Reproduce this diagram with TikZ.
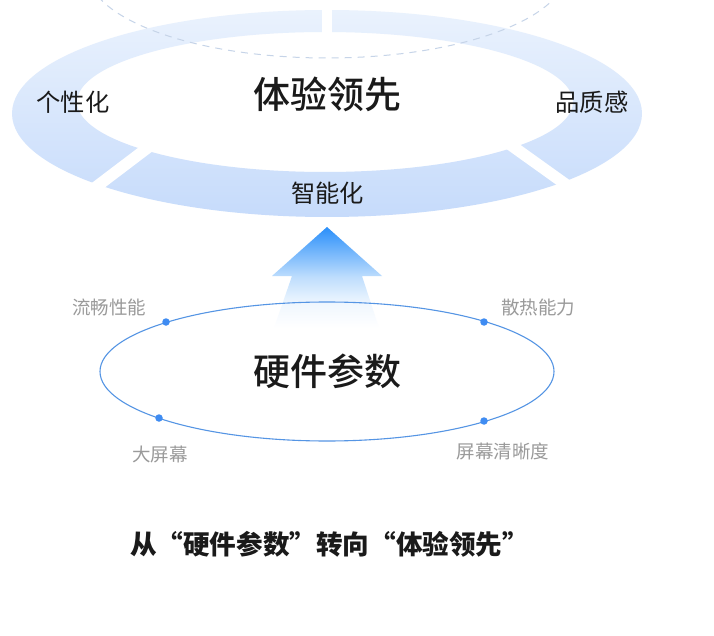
\documentclass[tikz,border=0pt]{standalone}
\usepackage{fontspec}
\setmainfont{Noto Sans CJK SC}
\newfontfamily\cjkmedium{Noto Sans CJK SC Medium}
\definecolor{ringtop}{HTML}{EAF2FD}
\definecolor{ringbot}{HTML}{C6DBFB}
\definecolor{arrowa}{HTML}{2A8FFA}
\definecolor{arrowb}{HTML}{BFDEFD}
\definecolor{arrowc}{HTML}{F0F7FE}
\definecolor{ink}{HTML}{1A1A1A}
\definecolor{muted}{HTML}{9A9A9A}
\definecolor{linkblue}{HTML}{5595E4}
\definecolor{dotblue}{HTML}{3F8CF2}
\definecolor{dashc}{HTML}{C6D4E8}
\pgfdeclareverticalshading{ringshade}{100bp}{
  color(0bp)=(ringbot); color(25bp)=(ringbot); color(75bp)=(ringtop); color(100bp)=(ringtop)}
\pgfdeclareverticalshading{arrowshade}{100bp}{
  color(0bp)=(white); color(25bp)=(white); color(37bp)=(arrowc); color(50bp)=(arrowb); color(75bp)=(arrowa); color(100bp)=(arrowa)}
\tikzset{
  big/.style={font=\fontsize{37}{37}\selectfont\cjkmedium, text=ink, inner sep=0pt},
  mid/.style={font=\fontsize{24.3}{24.3}\selectfont, text=ink, inner sep=0pt},
  small/.style={font=\fontsize{18.5}{18.5}\selectfont, text=muted, inner sep=0pt},
  caption/.style={font=\fontsize{26.6}{26.6}\selectfont\bfseries, text=ink, inner sep=0pt},
  gap/.style={draw=white, line width=11.5pt},
  dot/.style={circle, fill=dotblue, minimum size=7.5pt, inner sep=0pt}
}
\begin{document}
\begin{tikzpicture}[x=1pt,y=-1pt]
\useasboundingbox (0,0) rectangle (714,636);
\fill[white] (0,0) rectangle (714,636);
\begin{scope}
\clip (0,0) rectangle (714,636);
\path[even odd rule, shading=ringshade]
  (327,113.5) ellipse [x radius=315, y radius=103.5]
  (325,102) ellipse [x radius=248, y radius=70];
\draw[draw=white, line width=10pt] (327,5) -- (327,36);
\draw[gap] (92,190) -- (150,146);
\draw[gap] (568,186) -- (510,144.5);
\draw[dashc, line width=1pt, dash pattern=on 7pt off 6pt] (327,-30) ellipse [x radius=240, y radius=88];
\end{scope}
\path[shading=arrowshade]
  (327,227) -- (382,276) -- (362,276) -- (379,328) -- (274,328) -- (292,276) -- (272,276) -- cycle;
\draw[linkblue, line width=1.1pt] (327,371.5) ellipse [x radius=227, y radius=69.5];
\node[dot] (d1) at (166,322) {};
\node[dot] (d2) at (484,322) {};
\node[dot] (d3) at (159,418) {};
\node[dot] (d4) at (484,421) {};
\node[big] (t1) at (327.5,94) {体验领先};
\node[mid] (l1) at (73,102) {个性化};
\node[mid] (l2) at (592,102) {品质感};
\node[mid] (l3) at (327.5,193) {智能化};
\node[big] (t2) at (327.5,371) {硬件参数};
\node[small] (s1) at (109,307) {流畅性能};
\node[small] (s2) at (538,307) {散热能力};
\node[small] (s3) at (160,454) {大屏幕};
\node[small] (s4) at (503,451) {屏幕清晰度};
\node[caption] (c) at (329.5,544) {从“硬件参数”转向“体验领先”};
\end{tikzpicture}
\end{document}
